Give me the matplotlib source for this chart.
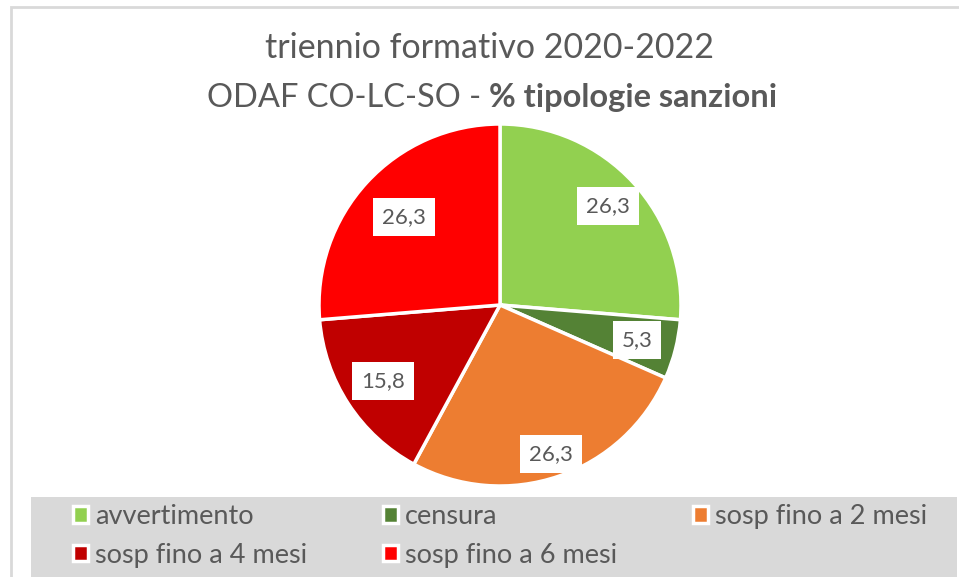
import matplotlib
matplotlib.use("Agg")
import matplotlib.pyplot as plt
import numpy as np
from matplotlib.patches import Rectangle

plt.rcParams['font.family'] = ['Lato', 'DejaVu Sans']

# data
categories = ['avvertimento', 'censura', 'sosp fino a 2 mesi', 'sosp fino a 4 mesi', 'sosp fino a 6 mesi']
values = [26.3, 5.3, 26.3, 15.8, 26.3]
value_labels = ['26,3', '5,3', '26,3', '15,8', '26,3']
colors = ['#92D050', '#548235', '#ED7D31', '#C00000', '#FF0000']
label_dist = [0.81, 0.78, 0.87, 0.77, 0.72]

text_col = '#595959'
W, H = 959, 577

fig = plt.figure(figsize=(W / 100, H / 100), dpi=100)
ax = fig.add_axes([0, 0, 1, 1])

# chart border (cropped screenshot)
ax.add_patch(Rectangle((10.5, -5), W + 10, H - 7 + 5, fill=False, ec='#D9D9D9', lw=2))
# legend background
ax.add_patch(Rectangle((31, -5), 957 - 31, H - 497 + 5, fc='#D9D9D9', ec='none'))

cx, cy, r = 500, H - 305, 181
wedges, _ = ax.pie(values, colors=colors, startangle=90, counterclock=False,
                   center=(cx, cy), radius=r, frame=True,
                   wedgeprops=dict(edgecolor='white', linewidth=2.5))
ax.set_xlim(0, W)
ax.set_ylim(0, H)
ax.axis('off')

for w, lab, d in zip(wedges, value_labels, label_dist):
    ang = np.deg2rad((w.theta1 + w.theta2) / 2)
    ax.text(cx + d * r * np.cos(ang), cy + d * r * np.sin(ang), lab,
            ha='center', va='center', fontsize=16, color=text_col,
            bbox=dict(boxstyle='square,pad=0.4', fc='white', ec='none'))

# title
fig.text(0.51, 1 - 48 / H, 'triennio formativo 2020-2022', ha='center', va='center',
         fontsize=24.5, color=text_col)
fig.canvas.draw()
rend = fig.canvas.get_renderer()
t1 = fig.text(0, 1 - 98 / H, 'ODAF CO-LC-SO - ', ha='left', va='center', fontsize=23.5, color=text_col)
t2 = fig.text(0, 1 - 98 / H, '% tipologie sanzioni', ha='left', va='center', fontsize=23.5,
              color=text_col, fontweight='bold')
w1 = t1.get_window_extent(rend).width
w2 = t2.get_window_extent(rend).width
x0 = 492 - (w1 + w2) / 2
t1.set_x(x0 / W)
t2.set_x((x0 + w1) / W)

# legend: reorder so rows read left to right
leg_fs = 19.5
fs_px = leg_fs * 100 / 72
hl, hpad = 0.55, 0.25
probe = fig.text(0, 0, 'sosp fino a 6 mesi', fontsize=leg_fs)
tw = probe.get_window_extent(rend).width
probe.remove()
colspace = (310 - tw - (hl + hpad) * fs_px) / fs_px

order = [0, 3, 1, 4, 2]
leg = ax.legend([wedges[i] for i in order], [categories[i] for i in order],
                ncol=3, loc='upper left',
                bbox_to_anchor=(73 / W, 1 - 504 / H), bbox_transform=fig.transFigure,
                frameon=False, fontsize=leg_fs, labelcolor=text_col,
                handlelength=hl, handleheight=0.55, handletextpad=hpad,
                columnspacing=colspace, borderpad=0, labelspacing=0.5, borderaxespad=0)

fig.savefig('out.png', dpi=100)
